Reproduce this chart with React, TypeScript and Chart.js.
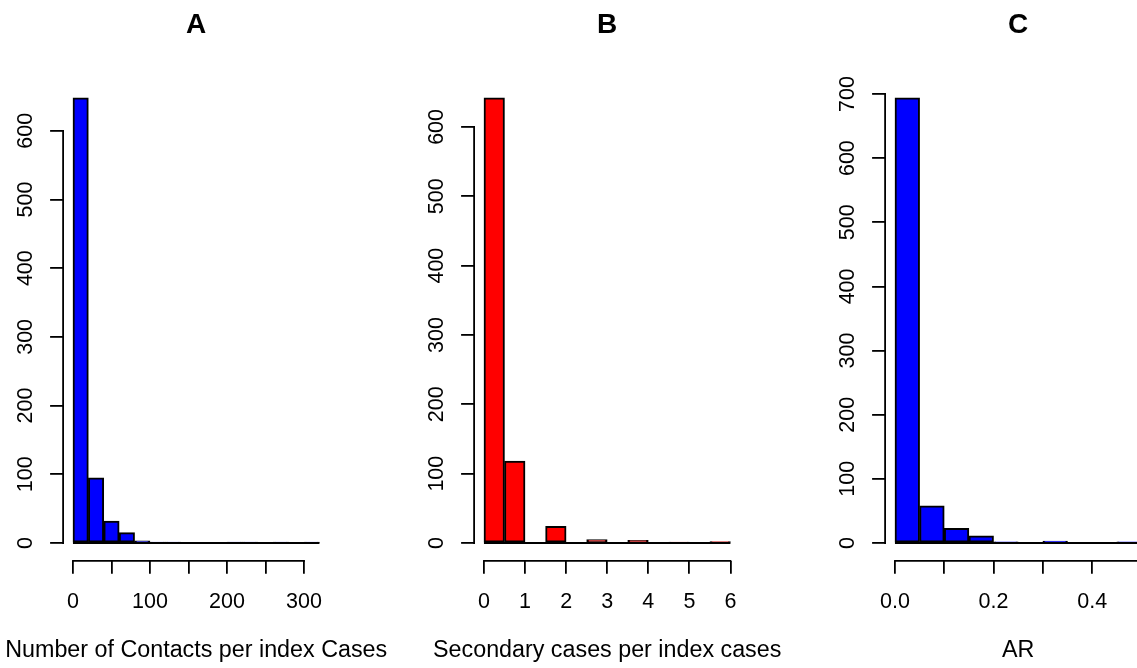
import React, { useEffect, useRef } from "react";
import { Chart, registerables } from "chart.js";

Chart.register(...registerables);

const FONT = "'Liberation Sans', Arial, Helvetica, sans-serif";

// ---------- Panel A: contacts per index case ----------
const contactsBinStarts = [0, 20, 40, 60, 80, 100, 120, 140, 160, 180, 200, 220, 240, 260, 280, 300];
const contactsBinWidth = 20;
const contactsCounts = [648, 95, 32, 15, 3, 1, 1, 0, 0, 0, 1, 1, 0, 1, 0, 1];
const contactsXTicks = [0, 50, 100, 150, 200, 250, 300];
const contactsXTickLabels = ["0", "", "100", "", "200", "", "300"];
const contactsYTicks = [0, 100, 200, 300, 400, 500, 600];

// ---------- Panel B: secondary cases per index case ----------
const secondaryBinStarts = [0, 0.5, 1, 1.5, 2, 2.5, 3, 3.5, 4, 4.5, 5, 5.5];
const secondaryBinWidth = 0.5;
const secondaryCounts = [642, 118, 0, 24, 0, 5, 0, 4, 0, 1, 0, 2];
const secondaryXTicks = [0, 1, 2, 3, 4, 5, 6];
const secondaryXTickLabels = ["0", "1", "2", "3", "4", "5", "6"];
const secondaryYTicks = [0, 100, 200, 300, 400, 500, 600];

// ---------- Panel C: attack rate ----------
const arBinStarts = [0, 0.05, 0.1, 0.15, 0.2, 0.25, 0.3, 0.35, 0.4, 0.45];
const arBinWidth = 0.05;
const arCounts = [694, 58, 23, 11, 2, 0, 3, 0, 0, 2];
const arXTicks = [0, 0.1, 0.2, 0.3, 0.4, 0.5];
const arXTickLabels = ["0.0", "", "0.2", "", "0.4", ""];
const arYTicks = [0, 100, 200, 300, 400, 500, 600, 700];

type PanelSpec = {
  title: string;
  xTitle: string;
  color: string;
  binStarts: number[];
  binWidth: number;
  counts: number[];
  xTicks: number[];
  xTickLabels: string[];
  yTicks: number[];
  left: number;
};

const PANEL_W = 411;
const PANEL_H = 668;
const PLOT_LEFT = 63.1;
const PLOT_RIGHT = 329.3;
const PLOT_TOP = 80;
const PLOT_BOTTOM = 560.8;
const LW = 1.8;
const TITLE_PAD_TOP = 8.5;

const rAxesPlugin = {
  id: "rAxes",
  afterDatasetsDraw(chart: any, _args: any, opts: any) {
    const { ctx, chartArea } = chart;
    const xs = chart.scales.x;
    const ys = chart.scales.y;
    const spec: PanelSpec = opts.spec;
    ctx.save();
    ctx.strokeStyle = "#000";
    ctx.lineWidth = LW;
    ctx.lineCap = "butt";
    // histogram baseline (zero-count bins are drawn as flat outlines in R)
    const y0 = ys.getPixelForValue(0);
    const lo = spec.binStarts[0];
    const hi = spec.binStarts[spec.binStarts.length - 1] + spec.binWidth;
    ctx.beginPath();
    ctx.moveTo(xs.getPixelForValue(lo), y0);
    ctx.lineTo(xs.getPixelForValue(hi), y0);
    ctx.stroke();
    // x axis line (first tick to last tick)
    const xb = chartArea.bottom;
    ctx.beginPath();
    ctx.moveTo(xs.getPixelForValue(spec.xTicks[0]) - LW / 2, xb);
    ctx.lineTo(xs.getPixelForValue(spec.xTicks[spec.xTicks.length - 1]) + LW / 2, xb);
    ctx.stroke();
    // y axis line
    const yl = chartArea.left;
    ctx.beginPath();
    ctx.moveTo(yl, ys.getPixelForValue(spec.yTicks[0]) + LW / 2);
    ctx.lineTo(yl, ys.getPixelForValue(spec.yTicks[spec.yTicks.length - 1]) - LW / 2);
    ctx.stroke();
    // rotated y tick labels
    ctx.fillStyle = "#000";
    ctx.font = `21.5px ${FONT}`;
    ctx.textAlign = "center";
    ctx.textBaseline = "alphabetic";
    for (const v of spec.yTicks) {
      const py = ys.getPixelForValue(v);
      ctx.save();
      ctx.translate(chartArea.left - 31, py);
      ctx.rotate(-Math.PI / 2);
      ctx.fillText(String(v), 0, 0);
      ctx.restore();
    }
    // x axis title (centred under the plot region, allowed to be wider than it)
    ctx.font = `23.3px ${FONT}`;
    ctx.textBaseline = "middle";
    ctx.fillText(spec.xTitle, (chartArea.left + chartArea.right) / 2, 651);
    ctx.restore();
  },
};

function Panel({ spec }: { spec: PanelSpec }) {
  const ref = useRef<HTMLCanvasElement | null>(null);
  useEffect(() => {
    if (!ref.current) return;
    const lo = spec.binStarts[0];
    const hi = spec.binStarts[spec.binStarts.length - 1] + spec.binWidth;
    const xr = hi - lo;
    const ymax = Math.max(...spec.counts);
    const chart = new Chart(ref.current, {
      type: "bar",
      data: {
        datasets: [
          {
            data: spec.binStarts.map((s, i) => ({ x: s + spec.binWidth / 2, y: spec.counts[i] })),
            backgroundColor: spec.color,
            borderColor: "#000",
            borderWidth: 2,
            borderSkipped: false,
            barPercentage: 1,
            categoryPercentage: 1,
            grouped: false,
          } as any,
        ],
      },
      options: {
        responsive: false,
        animation: false,
        events: [],
        layout: { padding: { left: 0, right: PANEL_W - PLOT_RIGHT, top: 0, bottom: 0 } },
        plugins: {
          legend: { display: false },
          tooltip: { enabled: false },
          title: {
            display: true,
            text: spec.title,
            fullSize: false,
            color: "#000",
            font: { family: FONT, size: 28, weight: "bold", lineHeight: 1.2 },
            padding: { top: TITLE_PAD_TOP, bottom: PLOT_TOP - TITLE_PAD_TOP - 33.6 },
          },
          rAxes: { spec },
        } as any,
        scales: {
          x: {
            type: "linear",
            offset: false,
            min: lo - 0.04 * xr,
            max: hi + 0.04 * xr,
            afterBuildTicks: (s: any) => {
              s.ticks = spec.xTicks.map((v) => ({ value: v }));
            },
            afterFit: (s: any) => {
              s.height = PANEL_H - PLOT_BOTTOM;
            },
            border: { display: false },
            grid: {
              offset: false,
              drawOnChartArea: false,
              drawTicks: true,
              tickLength: 13,
              color: "#000",
              lineWidth: LW,
            },
            ticks: {
              color: "#000",
              font: { family: FONT, size: 21.5 },
              padding: 15.8,
              maxRotation: 0,
              minRotation: 0,
              autoSkip: false,
              callback: (_v: any, i: number) => spec.xTickLabels[i],
            },
            title: { display: false },
          } as any,
          y: {
            type: "linear",
            min: -0.04 * ymax,
            max: 1.04 * ymax,
            afterBuildTicks: (s: any) => {
              s.ticks = spec.yTicks.map((v) => ({ value: v }));
            },
            afterFit: (s: any) => {
              s.width = PLOT_LEFT;
            },
            border: { display: false },
            grid: {
              drawOnChartArea: false,
              drawTicks: true,
              tickLength: 13,
              color: "#000",
              lineWidth: LW,
            },
            ticks: { display: false },
          } as any,
        },
      },
      plugins: [rAxesPlugin as any],
    });
    return () => chart.destroy();
  }, [spec]);
  return (
    <canvas
      ref={ref}
      width={PANEL_W}
      height={PANEL_H}
      style={{ position: "absolute", left: spec.left, top: 0, width: PANEL_W, height: PANEL_H }}
    />
  );
}

const panels: PanelSpec[] = [
  {
    title: "A",
    xTitle: "Number of Contacts per index Cases",
    color: "#0000FF",
    binStarts: contactsBinStarts,
    binWidth: contactsBinWidth,
    counts: contactsCounts,
    xTicks: contactsXTicks,
    xTickLabels: contactsXTickLabels,
    yTicks: contactsYTicks,
    left: 0,
  },
  {
    title: "B",
    xTitle: "Secondary cases per index cases",
    color: "#FF0000",
    binStarts: secondaryBinStarts,
    binWidth: secondaryBinWidth,
    counts: secondaryCounts,
    xTicks: secondaryXTicks,
    xTickLabels: secondaryXTickLabels,
    yTicks: secondaryYTicks,
    left: PANEL_W,
  },
  {
    title: "C",
    xTitle: "AR",
    color: "#0000FF",
    binStarts: arBinStarts,
    binWidth: arBinWidth,
    counts: arCounts,
    xTicks: arXTicks,
    xTickLabels: arXTickLabels,
    yTicks: arYTicks,
    left: PANEL_W * 2,
  },
];

export default function App() {
  return (
    <div
      style={{
        position: "absolute",
        left: 0,
        top: 0,
        width: 1137,
        height: 668,
        overflow: "hidden",
        background: "#fff",
      }}
    >
      {panels.map((p) => (
        <Panel key={p.title} spec={p} />
      ))}
    </div>
  );
}
